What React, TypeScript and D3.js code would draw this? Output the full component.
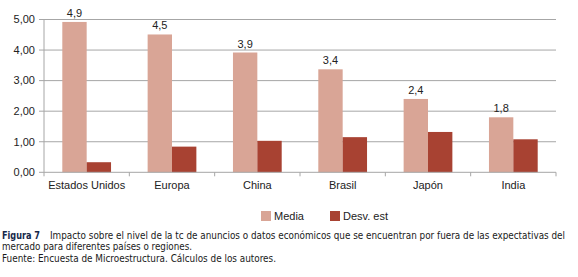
import React from "react";
import * as d3 from "d3";

const categories = ["Estados Unidos", "Europa", "China", "Brasil", "Japón", "India"];
const seriesNames = ["Media", "Desv. est"];
const media = [4.92, 4.51, 3.92, 3.37, 2.4, 1.8];
const desv = [0.33, 0.84, 1.03, 1.15, 1.32, 1.08];
const mediaLabels = ["4,9", "4,5", "3,9", "3,4", "2,4", "1,8"];
const yTicks = [0, 1, 2, 3, 4, 5];
const colors = ["#D9A596", "#A84232"];

const captionLines = [
  "Impacto sobre el nivel de la tc de anuncios o datos económicos que se encuentran por fuera de las expectativas del",
  "mercado para diferentes países o regiones.",
  "Fuente: Encuesta de Microestructura. Cálculos de los autores.",
];

const W = 578;
const H = 277;
const left = 44;
const right = 556;
const top = 19.5;
const bottom = 172.3;

export default function App() {
  const x = d3.scaleBand<string>().domain(categories).range([left, right]).padding(0);
  const bw = x.bandwidth();
  const xs = d3
    .scaleBand<string>()
    .domain(seriesNames)
    .range([18.3, bw - 18.3])
    .padding(0);
  const y = d3.scaleLinear().domain([0, 5]).range([bottom, top]);
  const fmt = (v: number) => d3.format(".2f")(v).replace(".", ",");
  const values = [media, desv];
  const font = "'Liberation Sans', Arial, sans-serif";
  const capFont = "'DejaVu Sans Condensed', 'Liberation Sans Narrow', sans-serif";
  const capSize = 10.2;

  return (
    <div style={{ position: "absolute", left: 0, top: 0 }}>
      <svg width={W} height={H} style={{ display: "block", background: "#fff" }}>
        {yTicks.map((t) => (
          <g key={t}>
            {t > 0 && (
              <line x1={left} x2={right} y1={y(t)} y2={y(t)} stroke="#a6a6a6" strokeWidth={1} />
            )}
            <line x1={left - 5} x2={left} y1={y(t)} y2={y(t)} stroke="#a6a6a6" strokeWidth={1} />
            <text
              x={35}
              y={y(t)}
              dy="0.35em"
              textAnchor="end"
              fontFamily={font}
              fontSize={11}
              fill="#222"
            >
              {fmt(t)}
            </text>
          </g>
        ))}
        {categories.map((c, i) => (
          <g key={c}>
            {seriesNames.map((s, j) => {
              const v = values[j][i];
              const bx = (x(c) as number) + (xs(s) as number);
              return (
                <rect
                  key={s}
                  x={bx}
                  y={y(v)}
                  width={xs.bandwidth()}
                  height={y(0) - y(v)}
                  fill={colors[j]}
                />
              );
            })}
            <text
              x={(x(c) as number) + (xs(seriesNames[0]) as number) + xs.bandwidth() / 2}
              y={y(media[i]) - 5}
              textAnchor="middle"
              fontFamily={font}
              fontSize={11}
              fill="#222"
            >
              {mediaLabels[i]}
            </text>
            <text
              x={(x(c) as number) + bw / 2}
              y={189}
              textAnchor="middle"
              fontFamily={font}
              fontSize={11}
              fill="#222"
            >
              {c}
            </text>
          </g>
        ))}
        <line x1={left} x2={left} y1={top} y2={bottom} stroke="#a6a6a6" />
        <line x1={left} x2={right} y1={bottom} y2={bottom} stroke="#a6a6a6" />
        {d3.range(categories.length + 1).map((k) => {
          const tx = left + k * bw;
          return <line key={k} x1={tx} x2={tx} y1={bottom} y2={bottom + 4} stroke="#a6a6a6" />;
        })}
        {seriesNames.map((s, j) => {
          const lx = [261, 330][j];
          return (
            <g key={s}>
              <rect x={lx} y={211} width={10} height={10} fill={colors[j]} />
              <text x={lx + 13} y={220} fontFamily={font} fontSize={11} fill="#222">
                {s}
              </text>
            </g>
          );
        })}
        <text
          x={2}
          y={238.5}
          fontFamily={capFont}
          fontSize={capSize}
          fontWeight="bold"
          fill="#16284a"
          textLength={38}
          lengthAdjust="spacingAndGlyphs"
        >
          Figura 7
        </text>
        <text
          x={50}
          y={238.5}
          fontFamily={capFont}
          fontSize={capSize}
          fill="#1a1a1a"
          textLength={515}
          lengthAdjust="spacingAndGlyphs"
        >
          {captionLines[0]}
        </text>
        <text
          x={2}
          y={250}
          fontFamily={capFont}
          fontSize={capSize}
          fill="#1a1a1a"
          textLength={190}
          lengthAdjust="spacingAndGlyphs"
        >
          {captionLines[1]}
        </text>
        <text
          x={2}
          y={261.5}
          fontFamily={capFont}
          fontSize={capSize}
          fill="#1a1a1a"
          textLength={274}
          lengthAdjust="spacingAndGlyphs"
        >
          {captionLines[2]}
        </text>
      </svg>
    </div>
  );
}
